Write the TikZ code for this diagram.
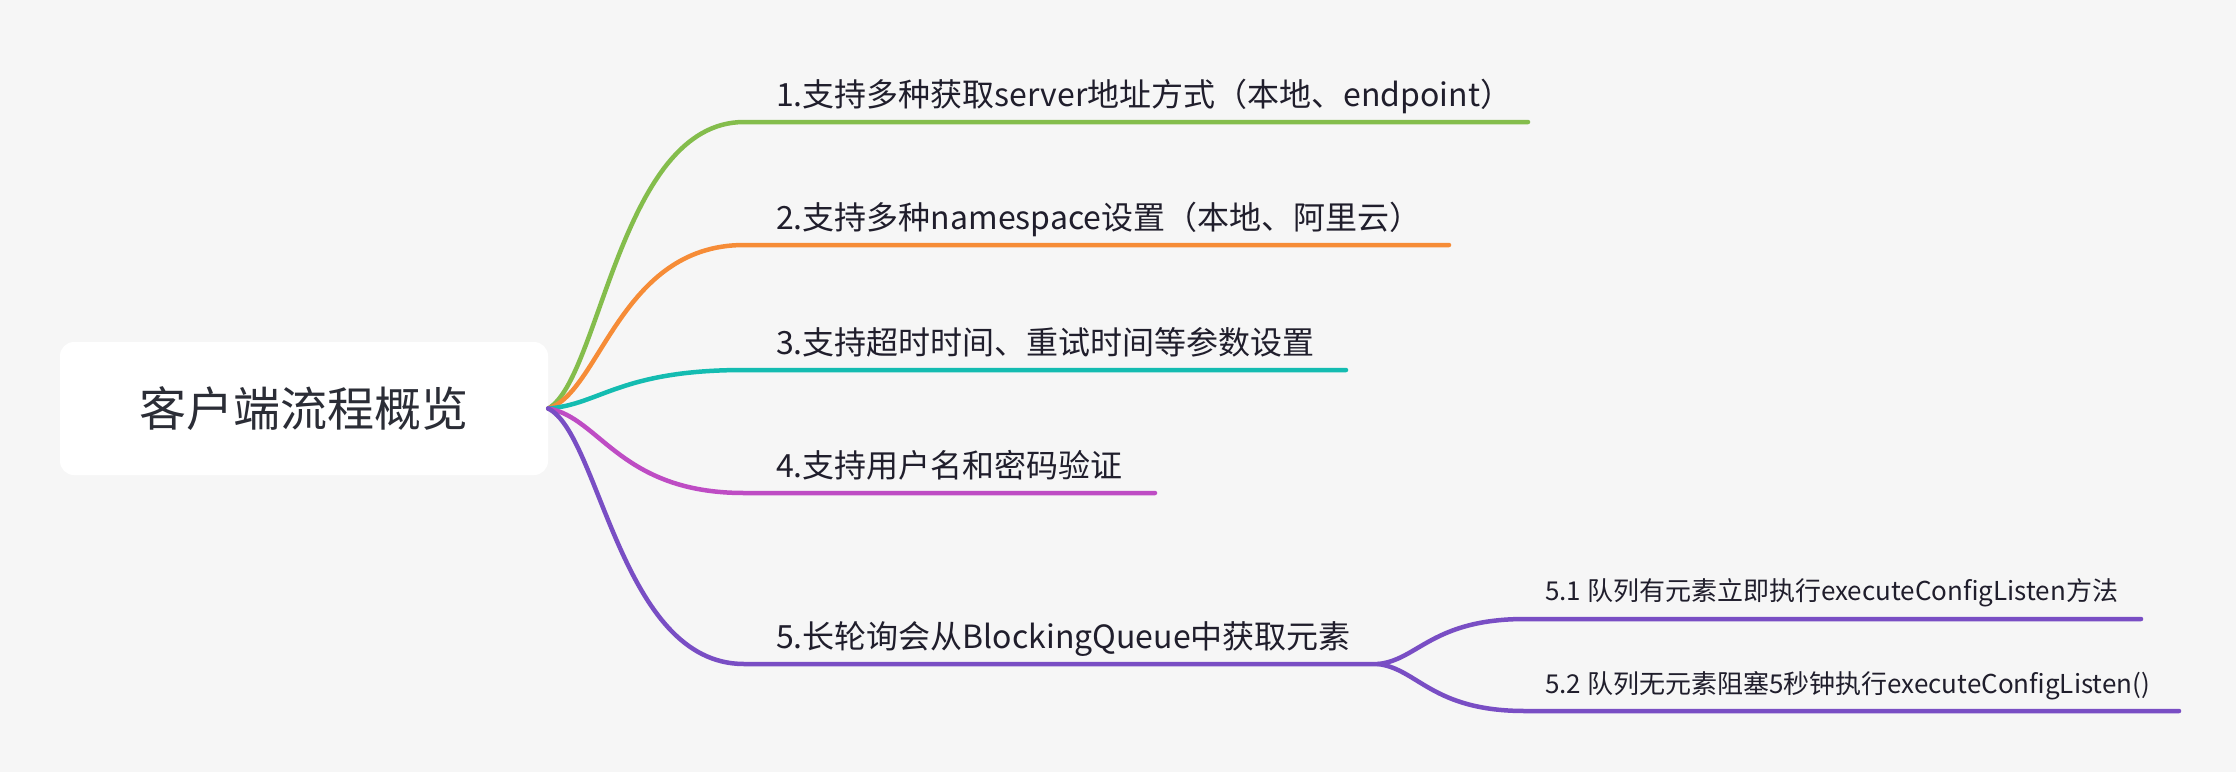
\documentclass[tikz,border=0pt]{standalone}
\usepackage{fontspec}
\setmainfont{Noto Sans CJK SC}
\definecolor{hinter}{RGB}{246,246,246}
\definecolor{schrift}{RGB}{32,30,44}
\definecolor{wurzeltext}{RGB}{43,45,54}
\definecolor{ast1}{RGB}{132,189,76}
\definecolor{ast2}{RGB}{246,140,55}
\definecolor{ast3}{RGB}{20,188,177}
\definecolor{ast4}{RGB}{190,76,196}
\definecolor{ast5}{RGB}{121,78,196}
\tikzset{
  wurzel/.style={fill=white, rounded corners=14pt, minimum width=488pt, minimum height=133pt,
    text=wurzeltext, font=\fontsize{47}{56}\selectfont},
  zweig/.style={inner sep=0pt, text=schrift, font=\fontsize{32}{38}\selectfont},
  blatt/.style={inner sep=0pt, text=schrift, font=\fontsize{26}{31}\selectfont},
  linie/.style={line width=4.5pt, line cap=round}
}
\begin{document}
\begin{tikzpicture}[x=1pt, y=-1pt]
    % Hintergrund
    \fill[hinter] (0,0) rectangle (2236,772);
    \useasboundingbox (0,0) rectangle (2236,772);

    % Wurzel
    \node[wurzel] (wurzel) at (304,408.5) {客户端流程概览};

    % Hauptzweige
    \foreach \i/\y/\e/\d/\farbe/\txt in {
        1/122/1528/-29/ast1/{1.支持多种获取server地址方式（本地、endpoint）},
        2/245/1449/-16/ast2/{2.支持多种namespace设置（本地、阿里云）},
        3/370/1346/-4/ast3/{3.支持超时时间、重试时间等参数设置},
        4/493/1155/9/ast4/{4.支持用户名和密码验证},
        5/664/1378/26/ast5/{5.长轮询会从BlockingQueue中获取元素}} {
        \coordinate (s\i) at (744,\y);
        \coordinate (e\i) at (\e,\y);
        \node[zweig, anchor=base west] (t\i) at (776,\y-16) {\txt};
        \draw[linie, \farbe] (wurzel.east) .. controls +(52,\d) and +(-124,0) .. (s\i) -- (e\i);
    }

    % Unterzweige von 5
    \coordinate (s51) at (1525,619);
    \coordinate (e51) at (2141,619);
    \coordinate (s52) at (1525,711);
    \coordinate (e52) at (2179,711);
    \node[blatt, anchor=base west] (t51) at (1545,600) {5.1 队列有元素立即执行executeConfigListen方法};
    \node[blatt, anchor=base west] (t52) at (1545,693) {5.2 队列无元素阻塞5秒钟执行executeConfigListen()};
    \draw[linie, ast5] (e5) .. controls +(40,-4) and +(-93,0) .. (s51) -- (e51);
    \draw[linie, ast5] (e5) .. controls +(40,5) and +(-93,0) .. (s52) -- (e52);
\end{tikzpicture}
\end{document}
